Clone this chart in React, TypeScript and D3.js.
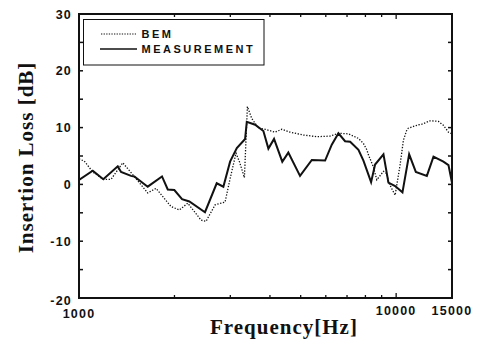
import React from "react";
import * as d3 from "d3";

const measFreq = [1000, 1105, 1193, 1325, 1357, 1459, 1494, 1647, 1827, 1905, 1998, 2113, 2228, 2496, 2718, 2852, 2995, 3145, 3340, 3381, 3592, 3814, 3955, 4121, 4375, 4571, 4977, 5421, 5970, 6266, 6577, 6902, 7161, 7606, 7886, 8337, 8582, 9120, 9456, 9927, 10469, 10990, 11535, 12497, 13113, 14093, 14621, 15000];
const measValues = [0.8, 2.4, 0.9, 3.2, 2.2, 1.5, 1.4, -0.4, 1.4, -0.9, -1.0, -2.6, -3.0, -4.9, 0.2, -0.4, 4.0, 6.4, 8.0, 11.0, 10.5, 9.4, 6.3, 8.0, 4.0, 5.6, 1.5, 4.3, 4.2, 7.0, 9.0, 7.6, 7.5, 6.1, 4.2, 0.4, 3.5, 5.3, 0.3, -0.3, -1.4, 5.3, 2.2, 1.5, 4.9, 4.0, 3.4, 0.3];

const bemFreq = [1000, 1039, 1105, 1193, 1262, 1374, 1494, 1647, 1750, 1951, 2072, 2203, 2426, 2515, 2686, 2888, 2995, 3126, 3205, 3323, 3396, 3506, 3679, 3862, 4150, 4359, 4630, 5101, 5623, 6191, 6577, 7072, 7606, 7886, 8083, 8177, 8474, 8690, 9120, 9348, 9456, 9927, 10294, 10544, 10809, 10935, 11339, 11757, 12050, 12795, 13595, 14093, 14621, 15000];
const bemValues = [4.5, 4.1, 2.2, 0.9, 0.9, 3.8, 1.4, -1.5, -0.7, -3.9, -4.5, -3.3, -6.3, -6.5, -3.6, -3.1, 1.0, 5.5, 4.0, 1.2, 13.7, 11.6, 9.9, 9.7, 9.2, 9.7, 9.2, 8.7, 8.4, 8.5, 9.0, 8.9, 8.1, 7.2, 6.1, 5.2, 3.1, 0.8, 2.3, 1.9, 0.4, -1.9, 3.5, 7.8, 9.6, 9.9, 10.2, 10.5, 10.6, 11.2, 11.1, 10.4, 9.2, 8.9];

const yTickLabels = [-20, -10, 0, 10, 20, 30];
const yMinorTicks = [-20, -15, -10, -5, 0, 5, 10, 15, 20, 25, 30];
const xTickLabels = [1000, 10000, 15000];
const xMinorTicks = [2000, 3000, 4000, 5000, 6000, 7000, 8000, 9000, 10000];
const legendLabels = ["BEM", "MEASUREMENT"];

export default function App() {
  const W = 477, H = 344;
  const x = d3.scaleLog().domain([1000, 15000]).range([79, 452]);
  const y = d3.scaleLinear().domain([-20, 30]).range([298, 14]);
  const line = d3.line<[number, number]>().x(d => x(d[0])).y(d => y(d[1]));
  const meas = measFreq.map((f, i) => [f, measValues[i]] as [number, number]);
  const bem = bemFreq.map((f, i) => [f, bemValues[i]] as [number, number]);
  const sans = "'Liberation Sans', Arial, sans-serif";
  const serif = "'Liberation Serif', 'Times New Roman', serif";
  const [x0, x1] = x.range();
  const [y0, y1] = y.range();
  return (
    <svg width={W} height={H} style={{ position: "absolute", left: 0, top: 0, background: "#fff" }}>
      <defs>
        <clipPath id="plot">
          <rect x={x0} y={y1} width={x1 - x0} height={y0 - y1} />
        </clipPath>
      </defs>
      <g clipPath="url(#plot)">
        <path d={line(bem) || ""} fill="none" stroke="#111" strokeWidth={1.3} strokeDasharray="1.3 1.6" />
        <path d={line(meas) || ""} fill="none" stroke="#111" strokeWidth={2} strokeLinejoin="miter" />
      </g>
      {/* ticks */}
      {yMinorTicks.map(v => (
        <g key={"yt" + v}>
          <line x1={x0} x2={x0 + 4} y1={y(v)} y2={y(v)} stroke="#111" strokeWidth={1.5} />
          <line x1={x1} x2={x1 - 4} y1={y(v)} y2={y(v)} stroke="#111" strokeWidth={1.5} />
        </g>
      ))}
      {xMinorTicks.map(v => (
        <g key={"xt" + v}>
          <line x1={x(v)} x2={x(v)} y1={y0} y2={y0 - (v === 10000 ? 5 : 3)} stroke="#111" strokeWidth={1.3} />
          <line x1={x(v)} x2={x(v)} y1={y1} y2={y1 + (v === 10000 ? 5 : 3)} stroke="#111" strokeWidth={1.3} />
        </g>
      ))}
      <rect x={x0} y={y1} width={x1 - x0} height={y0 - y1} fill="none" stroke="#111" strokeWidth={2} />
      {/* y labels */}
      {yTickLabels.map(v => (
        <text key={"yl" + v} x={72} y={y(v) + (v === -20 ? 2 : 0)} dy="0.36em" textAnchor="end"
          fontFamily={sans} fontWeight="bold" fontSize={12.5} letterSpacing={1.2} fill="#111">{v}</text>
      ))}
      {xTickLabels.map(v => (
        <text key={"xl" + v} x={x(v)} y={v === 1000 ? 318 : 315} textAnchor="middle"
          fontFamily={sans} fontWeight="bold" fontSize={12.5} letterSpacing={1.2} fill="#111">{v}</text>
      ))}
      {/* axis titles */}
      <text x={210} y={334} fontFamily={serif} fontWeight="bold" fontSize={21} letterSpacing={1} fill="#111">Frequency[Hz]</text>
      <text transform="translate(33,157.5) rotate(-90)" textAnchor="middle" fontFamily={serif} fontWeight="bold"
        fontSize={21} letterSpacing={1} fill="#111">Insertion Loss [dB]</text>
      {/* legend */}
      <rect x={83.5} y={19.5} width={180.5} height={45.5} fill="#fff" stroke="#111" strokeWidth={1} />
      <line x1={101} x2={136} y1={34} y2={34} stroke="#111" strokeWidth={1.2} strokeDasharray="1.3 1.3" />
      <line x1={100} x2={137} y1={49} y2={49} stroke="#111" strokeWidth={1.6} />
      {legendLabels.map((t, i) => (
        <text key={t} x={141.5} y={34 + i * 15} dy="0.36em" fontFamily={sans} fontWeight="bold" fontSize={11}
          letterSpacing={2.5} fill="#111">{t}</text>
      ))}
    </svg>
  );
}
